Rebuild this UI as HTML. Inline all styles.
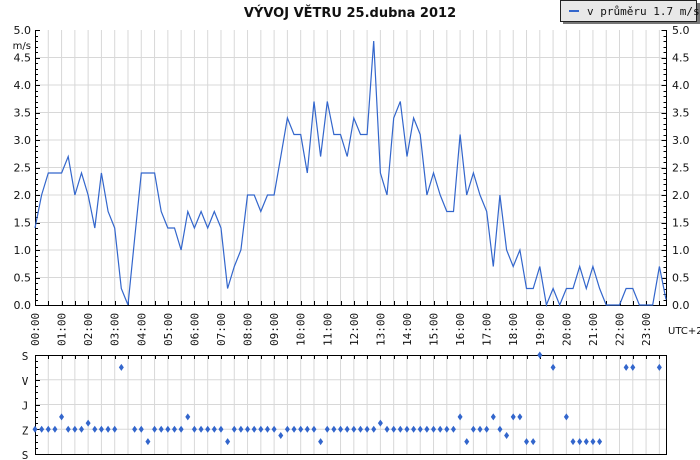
<!DOCTYPE html>
<html><head><meta charset="utf-8"><style>
body{margin:0;background:#fff;width:700px;height:460px;overflow:hidden}
svg{display:block;font-family:"DejaVu Sans","Liberation Sans",sans-serif}
</style></head><body>
<svg id="c" width="700" height="460" viewBox="0 0 700 460">
<text x="350" y="17" text-anchor="middle" font-size="13" font-weight="bold" fill="#111">VÝVOJ VĚTRU  25.dubna 2012</text>
<g>
<rect x="563" y="3" width="137" height="21" fill="#777"/>
<rect x="560.5" y="0.5" width="136" height="21" fill="#e8e8e8" stroke="#222"/>
<line x1="569" y1="11" x2="579" y2="11" stroke="#3366cc" stroke-width="2"/>
<text x="587" y="15" font-size="11" font-family="DejaVu Sans Mono,Liberation Mono,monospace" fill="#111">v průměru 1.7 m/s</text>
</g>
<g id="g1"></g><g id="g2"></g>
</svg>
<script>
const speeds=[1.4,2.0,2.4,2.4,2.4,2.7,2.0,2.4,2.0,1.4,2.4,1.7,1.4,0.3,0.0,1.2,2.4,2.4,2.4,1.7,1.4,1.4,1.0,1.7,1.4,1.7,1.4,1.7,1.4,0.3,0.7,1.0,2.0,2.0,1.7,2.0,2.0,2.7,3.4,3.1,3.1,2.4,3.7,2.7,3.7,3.1,3.1,2.7,3.4,3.1,3.1,4.8,2.4,2.0,3.4,3.7,2.7,3.4,3.1,2.0,2.4,2.0,1.7,1.7,3.1,2.0,2.4,2.0,1.7,0.7,2.0,1.0,0.7,1.0,0.3,0.3,0.7,0.0,0.3,0.0,0.3,0.3,0.7,0.3,0.7,0.3,0,0,0,0.3,0.3,0,0,0,0.7,0.1];
// direction in degrees, null = calm
const dirs=[270,270,270,270,225,270,270,270,247.5,270,270,270,270,45,null,270,270,315,270,270,270,270,270,225,270,270,270,270,270,315,270,270,270,270,270,270,270,292.5,270,270,270,270,270,315,270,270,270,270,270,270,270,270,247.5,270,270,270,270,270,270,270,270,270,270,270,225,315,270,270,270,225,270,292.5,225,225,315,315,0,null,45,null,225,315,315,315,315,315,null,null,null,45,45,null,null,null,45,null];
const yTicks=["0.0","0.5","1.0","1.5","2.0","2.5","3.0","3.5","4.0","4.5","5.0"];
const hourLabels=["00:00","01:00","02:00","03:00","04:00","05:00","06:00","07:00","08:00","09:00","10:00","11:00","12:00","13:00","14:00","15:00","16:00","17:00","18:00","19:00","20:00","21:00","22:00","23:00"];
const dirLabels=["S","V","J","Z","S"];

const NS="http://www.w3.org/2000/svg";
const L=35,R=666,T=30,B=305,T2=355,B2=454;
const xI=i=>L+i*(R-L)/95;           // 15-min index
const xH=h=>L+h*4*(R-L)/95;         // hours
const yV=v=>B-v/5*(B-T);
const yD=d=>T2+d/360*(B2-T2);
function mk(tag,attrs,parent){const e=document.createElementNS(NS,tag);for(const k in attrs)e.setAttribute(k,attrs[k]);parent.appendChild(e);return e;}
const g1=document.getElementById('g1'),g2=document.getElementById('g2');

// grids
for(let k=1;k<48;k++){const x=xH(k/2);
 let l=mk('line',{x1:x,y1:T,x2:x,y2:B,stroke:'#d8d8d8'},g1);
 
 
 let l2=mk('line',{x1:x,y1:T2,x2:x,y2:B2,stroke:'#d8d8d8'},g2);
 
 
}
for(let k=1;k<10;k++){const y=yV(k*0.5);
 let l=mk('line',{x1:L,y1:y,x2:R,y2:y,stroke:'#d8d8d8'},g1);
 
 
}
for(let k=1;k<4;k++){const y=yD(k*90);
 let l=mk('line',{x1:L,y1:y,x2:R,y2:y,stroke:'#d8d8d8'},g2);
 
 
}
// axes frame top chart
mk('path',{d:`M${L}.5 ${T} V${B+0.5} H${R+0.5} V${T}`,fill:'none',stroke:'#000'},g1);
// y ticks
for(let k=0;k<=50;k++){const y=Math.round(yV(k/10))+0.5;const len=k%5==0?5:3;
 mk('line',{x1:L,y1:y,x2:L+len,y2:y,stroke:'#000'},g1);
 mk('line',{x1:R+0.5,y1:y,x2:R+0.5-len,y2:y,stroke:'#000'},g1);
}
yTicks.forEach((t,k)=>{const y=yV(k*0.5)+4;
 let a=mk('text',{x:31,y:y,'text-anchor':'end','font-size':11,fill:'#111'},g1);a.textContent=t;
 
 
 let b=mk('text',{x:672,y:y,'font-size':11,fill:'#111'},g1);b.textContent=t;
 
 
});
let u=mk('text',{x:31,y:49,'text-anchor':'end','font-size':10,fill:'#111'},g1);u.textContent='m/s';


for(let k=1;k<48;k++){const x=Math.round(xH(k/2))+0.5;
 mk('line',{x1:x,y1:B,x2:x,y2:B-4,stroke:'#000'},g1);
 mk('line',{x1:x,y1:T2,x2:x,y2:T2+4,stroke:'#000'},g2);
}
hourLabels.forEach((t,h)=>{const x=xH(h)+4;
 let a=mk('text',{x:0,y:0,transform:`translate(${x},346) rotate(-90)`,'font-size':11,'font-family':'DejaVu Sans Mono,Liberation Mono,monospace',fill:'#111'},g1);a.textContent=t;
 
 
});
let tz=mk('text',{x:668,y:334,'font-size':10,fill:'#111'},g1);tz.textContent='UTC+2';


// speed line
let p=mk('polyline',{points:speeds.map((v,i)=>xI(i).toFixed(1)+','+yV(v).toFixed(1)).join(' '),fill:'none',stroke:'#3366cc','stroke-width':1.2},g1);



// direction chart frame
mk('rect',{x:L+0.5,y:T2+0.5,width:R-L,height:B2-T2,fill:'none',stroke:'#000'},g2);
for(let k=0;k<=16;k++){const y=Math.round(yD(k*22.5))+0.5;const len=k%4==0?5:3;
 mk('line',{x1:L,y1:y,x2:L+len,y2:y,stroke:'#000'},g2);}
dirLabels.forEach((t,k)=>{
 let a=mk('text',{x:25,y:yD(k*90)+5,'text-anchor':'middle','font-size':11,'font-family':'DejaVu Sans Mono,Liberation Mono,monospace',fill:'#111'},g2);a.textContent=t;
 
 
});
dirs.forEach((d,i)=>{if(d===null)return;const x=xI(i),y=yD(d);
 let m=mk('path',{d:`M${x} ${y-3.5}L${x+2.5} ${y}L${x} ${y+3.5}L${x-2.5} ${y}Z`,fill:'#3366cc'},g2);
 
 
});
</script>
</body></html>
